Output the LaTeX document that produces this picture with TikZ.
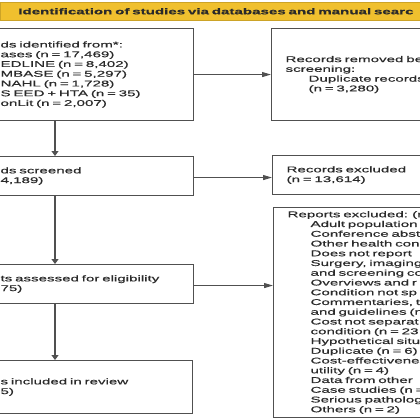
\documentclass[tikz,border=0pt]{standalone}
\usepackage{fontspec}
\setmainfont{Liberation Sans}[FakeStretch=1.8, FakeBold=0.6]
\usepackage{tikz}
\usetikzlibrary{arrows.meta, positioning}
\definecolor{bannerfill}{HTML}{F0C02E}
\definecolor{inkgray}{HTML}{2A2A2A}
\definecolor{edgegray}{HTML}{505050}
\newcommand{\boxfont}{\fontsize{8.4pt}{9.75pt}\selectfont}
\newcommand{\ind}{\hspace*{23pt}}
\tikzstyle{banner} = [rectangle, anchor=north west,
fill=bannerfill, draw=bannerfill!85!black, line width=0.6pt,
minimum height=18pt, inner xsep=18pt, inner ysep=0pt,
text width=440pt, align=left, text=inkgray,
font=\boxfont\bfseries]
\tikzstyle{stage} = [rectangle, anchor=north west,
draw=edgegray, line width=1.1pt,
inner xsep=14pt, inner ysep=0pt,
text width=179pt, align=left, text=inkgray, font=\boxfont]
\tikzstyle{side} = [stage, text width=200pt]
\tikzstyle{varrow} = [line width=1.1pt, draw=edgegray, -{Triangle[width=7pt,length=5pt]}]
\tikzstyle{harrow} = [line width=1.1pt, draw=edgegray, -{Triangle[width=5pt,length=9pt]}]
\begin{document}
\begin{tikzpicture}[x=1pt, y=-1pt]
    \useasboundingbox (0,0) rectangle (420,420);
    \clip (0,0) rectangle (420,420);

        % Nodes
        \node (head) [banner] at (0,2) {Identification of studies via databases and manual searc};

        \node (ident) [stage, minimum height=92pt] at (-14,28) {ds identified from*:\\ases (n = 17,469)\\EDLINE (n = 8,402)\\MBASE (n = 5,297)\\NAHL (n = 1,728)\\S EED + HTA (n = 35)\\onLit (n = 2,007)};
        \node (screened) [stage, minimum height=39pt] at (-14,156) {ds screened\\4,189)};
        \node (assessed) [stage, minimum height=39pt] at (-14,264) {ts assessed for eligibility\\75)};
        \node (included) [stage, minimum height=53pt, text width=178pt] at (-14,360) {s included in review\\5)};

        \node (removed) [side, minimum height=92pt] at (271,28) {Records removed be\\screening:\\\ind Duplicate records\\\ind (n = 3,280)};
        \node (excluded) [side, minimum height=39pt] at (272,155) {Records excluded\\(n = 13,614)};
        \node (reports) [side, minimum height=210pt] at (273,207) {Reports excluded: (n\\
            \ind Adult population\\\ind Conference abst\\\ind Other health con\\
            \ind Does not report\\\ind Surgery, imaging\\\ind and screening co\\
            \ind Overviews and r\\\ind Condition not sp\\\ind Commentaries, t\\
            \ind and guidelines (n\\\ind Cost not separat\\\ind condition (n = 23\\
            \ind Hypothetical situ\\\ind Duplicate (n = 6)\\\ind Cost-effectivenes\\
            \ind utility (n = 4)\\\ind Data from other\\\ind Case studies (n =\\
            \ind Serious patholog\\\ind Others (n = 2)};

        \coordinate (col) at (55,0);

        % Connections
        \draw [harrow] (ident.east) -- (ident.east -| removed.west);
        \draw [varrow] (ident.south -| col) -- (screened.north -| col);
        \draw [harrow] ([yshift=-1.5pt]screened.east) -- ([yshift=-1.5pt]screened.east -| excluded.west);
        \draw [varrow] (screened.south -| col) -- (assessed.north -| col);
        \draw [harrow] ([yshift=-1.5pt]assessed.east) -- ([yshift=-1.5pt]assessed.east -| reports.west);
        \draw [varrow] (assessed.south -| col) -- (included.north -| col);

\end{tikzpicture}
\end{document}
